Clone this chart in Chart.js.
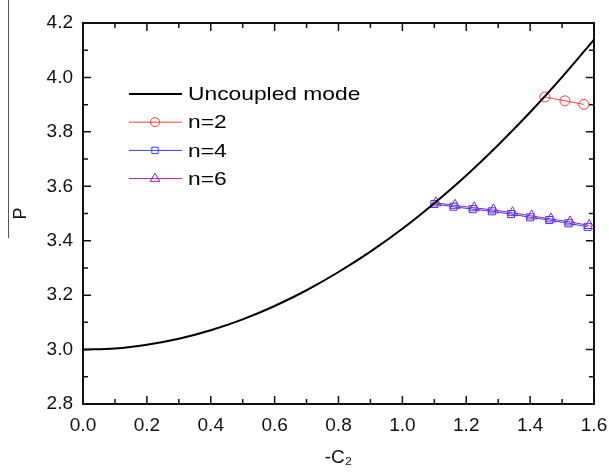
<!DOCTYPE html>
<html>
<head>
<meta charset="utf-8">
<script src="https://cdn.jsdelivr.net/npm/chart.js@4"></script>
<style>
  html, body { margin: 0; padding: 0; background: #fff; }
  #wrap { width: 609px; height: 473px; }
</style>
</head>
<body>
<div id="wrap"><canvas id="chart" width="609" height="473"></canvas></div>
<script>
// Data
const uncoupledX = [0.0, 0.1, 0.2, 0.3, 0.4, 0.5, 0.6, 0.7, 0.8, 0.9, 1.0, 1.1, 1.2, 1.3, 1.4, 1.5, 1.6];
const uncoupledP = [3.000, 3.004, 3.018, 3.040, 3.071, 3.111, 3.160, 3.218, 3.285, 3.360, 3.444, 3.538, 3.640, 3.752, 3.872, 4.001, 4.139];

const n2X = [1.446, 1.509, 1.568];
const n2P = [3.928, 3.914, 3.901];

const n4X = [1.10, 1.16, 1.22, 1.28, 1.34, 1.40, 1.46, 1.52, 1.58];
const n4P = [3.535, 3.525, 3.516, 3.508, 3.498, 3.486, 3.476, 3.464, 3.451];

const n6X = [1.105, 1.165, 1.225, 1.285, 1.345, 1.405, 1.465, 1.525, 1.585];
const n6P = [3.539, 3.530, 3.521, 3.513, 3.503, 3.491, 3.480, 3.469, 3.456];

const xTicks = [0.0, 0.2, 0.4, 0.6, 0.8, 1.0, 1.2, 1.4, 1.6];
const yTicks = [2.8, 3.0, 3.2, 3.4, 3.6, 3.8, 4.0, 4.2];

const FONT = 'Liberation Sans, Arial, sans-serif';

function toPoints(xs, ys) {
    return xs.map((x, i) => ({ x: x, y: ys[i] }));
}

// inward ticks, frame and in-plot legend
const decorations = {
    id: 'decorations',
    afterDraw(chart) {
        const ctx = chart.ctx;
        const area = chart.chartArea;
        const xs = chart.scales.x;
        const ys = chart.scales.y;
        ctx.save();
        ctx.strokeStyle = '#111';
        ctx.lineWidth = 2;
        ctx.strokeRect(area.left, area.top, area.right - area.left, area.bottom - area.top);

        ctx.lineWidth = 1.5;
        ctx.beginPath();
        for (let v = 0; v <= 16; v++) {
            const px = xs.getPixelForValue(v / 10);
            const len = v % 2 === 0 ? 8 : 5;
            ctx.moveTo(px, area.bottom); ctx.lineTo(px, area.bottom - len);
            ctx.moveTo(px, area.top); ctx.lineTo(px, area.top + len);
        }
        for (let v = 28; v <= 42; v++) {
            const py = ys.getPixelForValue(v / 10);
            const len = v % 2 === 0 ? 8 : 5;
            ctx.moveTo(area.left, py); ctx.lineTo(area.left + len, py);
            ctx.moveTo(area.right, py); ctx.lineTo(area.right - len, py);
        }
        ctx.stroke();

        // overbar of the axis title
        ctx.strokeStyle = '#555';
        ctx.lineWidth = 1;
        ctx.beginPath();
        ctx.moveTo(8.5, 0); ctx.lineTo(8.5, 238);
        ctx.stroke();

        // legend inside plot
        const lx = 129, tx = 188;
        let ly = 94;
        ctx.textBaseline = 'middle';
        chart.data.datasets.forEach(ds => {
            ctx.strokeStyle = ds.borderColor;
            ctx.lineWidth = ds.borderWidth;
            ctx.beginPath();
            ctx.moveTo(lx, ly); ctx.lineTo(lx + 53, ly);
            ctx.stroke();
            if (ds.pointStyle && ds.pointRadius > 0) {
                ctx.fillStyle = 'rgba(0,0,0,0)';
                Chart.helpers.drawPoint(ctx, {
                    pointStyle: ds.pointStyle,
                    radius: ds.pointRadius - 0.5,
                    borderWidth: 1
                }, lx + 26, ly);
            }
            // the reference text is a little stretched sideways
            ctx.save();
            ctx.translate(tx, ly);
            ctx.scale(1.2, 1);
            ctx.font = '19px ' + FONT;
            ctx.fillStyle = '#000';
            ctx.fillText(ds.label, 0, 1);
            ctx.restore();
            ly += 28.2;
        });
        ctx.restore();
    }
};

new Chart(document.getElementById('chart'), {
    type: 'scatter',
    data: {
        datasets: [
            {
                label: 'Uncoupled mode',
                data: toPoints(uncoupledX, uncoupledP),
                showLine: true,
                borderColor: '#000',
                borderWidth: 2,
                pointRadius: 0,
                cubicInterpolationMode: 'monotone'
            },
            {
                label: 'n=2',
                data: toPoints(n2X, n2P),
                showLine: true,
                borderColor: '#ff3a3a',
                backgroundColor: 'rgba(0,0,0,0)',
                borderWidth: 1,
                pointStyle: 'circle',
                pointRadius: 5,
                pointBorderWidth: 1
            },
            {
                label: 'n=4',
                data: toPoints(n4X, n4P),
                showLine: true,
                borderColor: '#3a3aff',
                backgroundColor: 'rgba(0,0,0,0)',
                borderWidth: 1,
                pointStyle: 'rect',
                pointRadius: 5,
                pointBorderWidth: 1
            },
            {
                label: 'n=6',
                data: toPoints(n6X, n6P),
                showLine: true,
                borderColor: '#a020a8',
                backgroundColor: 'rgba(0,0,0,0)',
                borderWidth: 1,
                pointStyle: 'triangle',
                pointRadius: 6,
                pointBorderWidth: 1
            }
        ]
    },
    options: {
        responsive: false,
        animation: false,
        layout: { padding: { top: 23, right: 15, left: 0, bottom: 0 } },
        plugins: {
            legend: { display: false },
            tooltip: { enabled: false }
        },
        scales: {
            x: {
                type: 'linear',
                min: 0, max: 1.6,
                afterBuildTicks: s => { s.ticks = xTicks.map(v => ({ value: v })); },
                afterFit: s => { s.height = 69; s.paddingLeft = 0; s.paddingRight = 0; },
                grid: { display: false, drawTicks: false },
                border: { display: false },
                ticks: {
                    color: '#111',
                    font: { family: FONT, size: 19 },
                    padding: 10,
                    maxRotation: 0,
                    callback: v => v.toFixed(1)
                },
                title: {
                    display: true,
                    text: '-C\u2082',
                    color: '#111',
                    font: { family: FONT, size: 19 },
                    padding: { top: 2 }
                }
            },
            y: {
                type: 'linear',
                min: 2.8, max: 4.2,
                afterBuildTicks: s => { s.ticks = yTicks.map(v => ({ value: v })); },
                afterFit: s => { s.width = 83; s.paddingTop = 0; s.paddingBottom = 0; },
                grid: { display: false, drawTicks: false },
                border: { display: false },
                ticks: {
                    color: '#111',
                    font: { family: FONT, size: 19 },
                    padding: 10,
                    callback: v => v.toFixed(1)
                },
                title: {
                    display: true,
                    text: 'P',
                    color: '#111',
                    font: { family: FONT, size: 18 },
                    padding: { top: 10, bottom: 0 }
                }
            }
        }
    },
    plugins: [decorations]
});
</script>
</body>
</html>
